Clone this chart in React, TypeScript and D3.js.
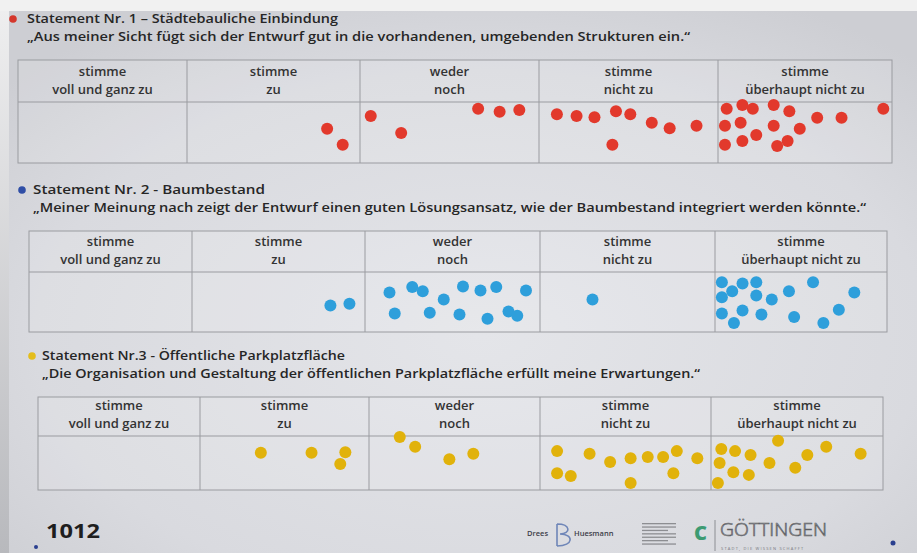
import React from "react";
import * as d3 from "d3";

const W = 917;
const H = 553;

// ---- data ----
const headerTop = ["stimme", "stimme", "weder", "stimme", "stimme"];
const headerBottom = ["voll und ganz zu", "zu", "noch", "nicht zu", "überhaupt nicht zu"];

const statementLabels = ["Statement Nr. 1 – ", "Statement Nr. 2 - ", "Statement Nr.3 - "];
const statementTopics = ["Städtebauliche Einbindung", "Baumbestand", "Öffentliche Parkplatzfläche"];
const statementQuotes = [
  "„Aus meiner Sicht fügt sich der Entwurf gut in die vorhandenen, umgebenden Strukturen ein.“",
  "„Meiner Meinung nach zeigt der Entwurf einen guten Lösungsansatz, wie der Baumbestand integriert werden könnte.“",
  "„Die Organisation und Gestaltung der öffentlichen Parkplatzfläche erfüllt meine Erwartungen.“",
];
const dotColors = ["#e2392c", "#2e9fdb", "#e1b20b"];
const bulletColors = ["#d4372c", "#2f4ea6", "#e4bd1c"];

// [answer category index, position across the column 0-1, position down the answer row 0-1]
const votes1: [number, number, number][] = [
  [1, 0.81, 0.44], [1, 0.9, 0.7],
  [2, 0.06, 0.23], [2, 0.23, 0.51], [2, 0.66, 0.11], [2, 0.78, 0.16], [2, 0.89, 0.13],
  [3, 0.1, 0.2], [3, 0.21, 0.23], [3, 0.31, 0.25], [3, 0.43, 0.15], [3, 0.51, 0.2], [3, 0.41, 0.7],
  [3, 0.63, 0.34], [3, 0.73, 0.43], [3, 0.88, 0.39],
  [4, 0.05, 0.11], [4, 0.14, 0.05], [4, 0.2, 0.11], [4, 0.32, 0.05], [4, 0.41, 0.15], [4, 0.04, 0.39],
  [4, 0.13, 0.34], [4, 0.32, 0.39], [4, 0.47, 0.44], [4, 0.22, 0.54], [4, 0.04, 0.7], [4, 0.14, 0.64],
  [4, 0.34, 0.72], [4, 0.4, 0.64], [4, 0.57, 0.26], [4, 0.71, 0.26], [4, 0.95, 0.11],
];
const votes2: [number, number, number][] = [
  [1, 0.8, 0.56], [1, 0.91, 0.53],
  [2, 0.14, 0.34], [2, 0.27, 0.25], [2, 0.33, 0.32], [2, 0.45, 0.46], [2, 0.56, 0.24], [2, 0.66, 0.31],
  [2, 0.75, 0.25], [2, 0.92, 0.31], [2, 0.17, 0.69], [2, 0.37, 0.68], [2, 0.54, 0.71], [2, 0.7, 0.78],
  [2, 0.82, 0.66], [2, 0.87, 0.73],
  [3, 0.3, 0.46],
  [4, 0.04, 0.17], [4, 0.1, 0.32], [4, 0.16, 0.19], [4, 0.24, 0.17], [4, 0.04, 0.42], [4, 0.24, 0.39],
  [4, 0.33, 0.46], [4, 0.43, 0.32], [4, 0.57, 0.17], [4, 0.81, 0.34], [4, 0.04, 0.69], [4, 0.16, 0.64],
  [4, 0.11, 0.85], [4, 0.27, 0.71], [4, 0.46, 0.75], [4, 0.63, 0.85], [4, 0.72, 0.63],
];
const votes3: [number, number, number][] = [
  [1, 0.36, 0.31], [1, 0.66, 0.31], [1, 0.86, 0.3], [1, 0.83, 0.52],
  [2, 0.18, 0.02], [2, 0.27, 0.2], [2, 0.47, 0.43], [2, 0.61, 0.33],
  [3, 0.1, 0.28], [3, 0.29, 0.33], [3, 0.41, 0.48], [3, 0.53, 0.41], [3, 0.63, 0.39], [3, 0.72, 0.39],
  [3, 0.8, 0.28], [3, 0.92, 0.41], [3, 0.1, 0.69], [3, 0.18, 0.74], [3, 0.53, 0.87], [3, 0.78, 0.69],
  [4, 0.06, 0.24], [4, 0.14, 0.28], [4, 0.23, 0.35], [4, 0.39, 0.09], [4, 0.67, 0.2], [4, 0.87, 0.33],
  [4, 0.56, 0.35], [4, 0.05, 0.5], [4, 0.34, 0.5], [4, 0.13, 0.67], [4, 0.22, 0.72], [4, 0.49, 0.59],
  [4, 0.04, 0.87],
];
const allVotes = [votes1, votes2, votes3];
const footerNumber = "1012";

// ---- layout (photo perspective per table) ----
const layouts = [
  { cols: [18, 187, 360, 539, 718, 892], top: 60, mid: 102, bottom: 163, textX: 27, bulletX: 13, l1: 311, l2: 663 },
  { cols: [29, 192, 365, 540, 715, 887], top: 231, mid: 272, bottom: 332, textX: 33, bulletX: 22, l1: 232, l2: 833 },
  { cols: [38, 200, 369, 540, 711, 883], top: 397, mid: 436, bottom: 490, textX: 42, bulletX: 32, l1: 303, l2: 658 },
];

const FONT = "'Open Sans', 'Noto Sans', sans-serif";

function Table({ i }: { i: number }) {
  const L = layouts[i];
  const x = d3.scaleLinear().domain(d3.range(6)).range(L.cols);
  const y = d3.scaleLinear().domain([0, 1]).range([L.mid, L.bottom]);
  const line = "#9a9ba0";
  return (
    <g>
      {/* title */}
      <circle cx={L.bulletX} cy={L.top - 41} r={3.8} fill={bulletColors[i]} />
      <text x={L.textX} y={L.top - 37} fontFamily={FONT} fontWeight={600} fontSize={12.8} fill="#262626"
        textLength={L.l1} lengthAdjust="spacingAndGlyphs">
        {statementLabels[i] + statementTopics[i]}
      </text>
      <text x={L.textX} y={L.top - 19} fontFamily={FONT} fontWeight={600} fontSize={12.8} fill="#262626"
        textLength={L.l2} lengthAdjust="spacingAndGlyphs">
        {statementQuotes[i]}
      </text>
      {/* grid */}
      <rect x={L.cols[0]} y={L.top} width={L.cols[5] - L.cols[0]} height={L.bottom - L.top}
        fill="#ffffff" fillOpacity={0.12} stroke={line} strokeWidth={1} />
      <line x1={L.cols[0]} x2={L.cols[5]} y1={L.mid} y2={L.mid} stroke={line} strokeWidth={1} />
      {d3.range(1, 5).map((c) => (
        <line key={c} x1={x(c)} x2={x(c)} y1={L.top} y2={L.bottom} stroke={line} strokeWidth={1} />
      ))}
      {headerTop.map((t, c) => (
        <text key={c} x={x(c + 0.5)} textAnchor="middle" fontFamily={FONT} fontWeight={600}
          fontSize={13} fill="#333">
          <tspan x={x(c + 0.5)} y={L.mid - 26}>{t}</tspan>
          <tspan x={x(c + 0.5)} y={L.mid - 8.5}>{headerBottom[c]}</tspan>
        </text>
      ))}
      {/* votes */}
      {allVotes[i].map(([c, fx, fy], k) => (
        <circle key={k} cx={x(c + fx)} cy={y(fy)} r={6} fill={dotColors[i]} />
      ))}
    </g>
  );
}

export default function App() {
  return (
    <svg width={W} height={H} viewBox={`0 0 ${W} ${H}`} style={{ display: "block", position: "absolute", left: 0, top: 0 }}>
      <defs>
        <radialGradient id="paper" cx="52%" cy="60%" r="70%">
          <stop offset="0%" stopColor="#e4e5e9" />
          <stop offset="70%" stopColor="#d9dadf" />
          <stop offset="100%" stopColor="#cdced3" />
        </radialGradient>
        <linearGradient id="edge" x1="0" y1="0" x2="0" y2="1">
          <stop offset="0%" stopColor="#eeeeef" />
          <stop offset="100%" stopColor="#b8b9bd" />
        </linearGradient>
      </defs>
      <rect x={0} y={0} width={W} height={H} fill="#f1f1f1" />
      <rect x={0} y={11} width={10} height={H - 11} fill="url(#edge)" />
      <rect x={9} y={11} width={W - 9} height={H - 11} fill="url(#paper)" />

      {[0, 1, 2].map((i) => <Table key={i} i={i} />)}

      {/* footer */}
      <text x={46} y={538} fontFamily={FONT} fontWeight={700} fontSize={19} fill="#1e1e1e"
        textLength={54} lengthAdjust="spacingAndGlyphs">{footerNumber}</text>
      <circle cx={36} cy={547} r={2} fill="#2a3f8f" />
      <circle cx={893} cy={543} r={2.5} fill="#2a3f8f" />

      <text x={527} y={536} fontFamily={FONT} fontWeight={600} fontSize={7.5} fill="#3c3c48">Drees</text>
      <path d="M557,524 L557,546 M557,524 C571,524 571,534 560,534 C574,534 574,546 557,546"
        fill="none" stroke="#6f86b8" strokeWidth={1.6} />
      <text x={574} y={536} fontFamily={FONT} fontWeight={600} fontSize={7.5} fill="#3c3c48">Huesmann</text>
      {d3.range(7).map((k) => (
        <rect key={k} x={642} y={523 + k * 3.4} width={k % 3 === 2 ? 26 : 34} height={1.3} fill="#8d8e92" />
      ))}
      <text x={694} y={540} fontFamily={FONT} fontWeight={800} fontSize={20} fill="#3d9b72">C</text>
      <line x1={715} x2={715} y1={520} y2={551} stroke="#7a7b80" strokeWidth={0.8} />
      <text x={720} y={536} fontFamily={FONT} fontWeight={300} fontSize={19} fill="none" stroke="#5c5d62"
        strokeWidth={0.7} textLength={107} lengthAdjust="spacingAndGlyphs">GÖTTINGEN</text>
      <text x={721} y={550} fontFamily={FONT} fontSize={4} fill="#77787c" letterSpacing={1.2}>
        STADT, DIE WISSEN SCHAFFT
      </text>
    </svg>
  );
}
